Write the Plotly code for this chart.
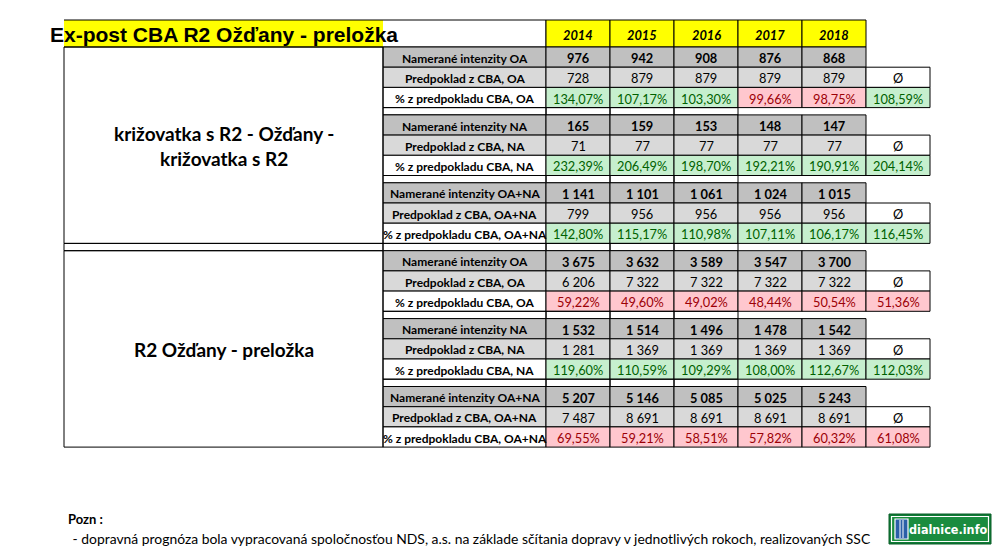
import plotly.graph_objects as go

# ---------------- data ----------------
years = ["2014", "2015", "2016", "2017", "2018"]
groups = ["OA", "NA", "OA+NA"]
title_text = "Ex-post CBA R2 Ožďany - preložka"
section_names = [["križovatka s R2 - Ožďany -", "križovatka s R2"], ["R2 Ožďany - preložka"]]

sec1_measured_OA = [976, 942, 908, 876, 868]
sec1_forecast_OA = [728, 879, 879, 879, 879]
sec1_pct_OA = [134.07, 107.17, 103.30, 99.66, 98.75]
sec1_avg_OA = 108.59

sec1_measured_NA = [165, 159, 153, 148, 147]
sec1_forecast_NA = [71, 77, 77, 77, 77]
sec1_pct_NA = [232.39, 206.49, 198.70, 192.21, 190.91]
sec1_avg_NA = 204.14

sec1_measured_ALL = [1141, 1101, 1061, 1024, 1015]
sec1_forecast_ALL = [799, 956, 956, 956, 956]
sec1_pct_ALL = [142.80, 115.17, 110.98, 107.11, 106.17]
sec1_avg_ALL = 116.45

sec2_measured_OA = [3675, 3632, 3589, 3547, 3700]
sec2_forecast_OA = [6206, 7322, 7322, 7322, 7322]
sec2_pct_OA = [59.22, 49.60, 49.02, 48.44, 50.54]
sec2_avg_OA = 51.36

sec2_measured_NA = [1532, 1514, 1496, 1478, 1542]
sec2_forecast_NA = [1281, 1369, 1369, 1369, 1369]
sec2_pct_NA = [119.60, 110.59, 109.29, 108.00, 112.67]
sec2_avg_NA = 112.03

sec2_measured_ALL = [5207, 5146, 5085, 5025, 5243]
sec2_forecast_ALL = [7487, 8691, 8691, 8691, 8691]
sec2_pct_ALL = [69.55, 59.21, 58.51, 57.82, 60.32]
sec2_avg_ALL = 61.08

note_title = "Pozn :"
note_text = " - dopravná prognóza bola vypracovaná spoločnosťou NDS, a.s. na základe sčítania dopravy v jednotlivých rokoch, realizovaných SSC"
logo_text = "dialnice.info"

sections = [
    [(sec1_measured_OA, sec1_forecast_OA, sec1_pct_OA, sec1_avg_OA),
     (sec1_measured_NA, sec1_forecast_NA, sec1_pct_NA, sec1_avg_NA),
     (sec1_measured_ALL, sec1_forecast_ALL, sec1_pct_ALL, sec1_avg_ALL)],
    [(sec2_measured_OA, sec2_forecast_OA, sec2_pct_OA, sec2_avg_OA),
     (sec2_measured_NA, sec2_forecast_NA, sec2_pct_NA, sec2_avg_NA),
     (sec2_measured_ALL, sec2_forecast_ALL, sec2_pct_ALL, sec2_avg_ALL)],
]

# ---------------- layout / style ----------------
FONT = "Lato"
X_LEFT, X_LABEL, X_VAL0, COLW = 64, 383, 546, 64
Y_HEAD, Y0, ROWH, BLOCK = 20, 47, 20.2, 67.9
YELLOW = "#FFFF00"
GRAY_DARK = "#C0C0C0"
GRAY_LIGHT = "#D9D9D9"
GOOD_FILL, GOOD_TXT = "#C6EFCE", "#006100"
BAD_FILL, BAD_TXT = "#FFC7CE", "#9C0006"
LAB_SIZE = 12
VAL_SIZE = 12.8

shapes = []
ann = []


def rect(x0, x1, y0, y1, fill=None, line=True, lw=1, lc="black"):
    shapes.append(dict(type="rect", xref="x", yref="y", x0=x0, x1=x1, y0=y0, y1=y1,
                       fillcolor=fill if fill else "rgba(0,0,0,0)",
                       line=dict(color=lc, width=lw if line else 0), layer="above"))


def hline(x0, x1, y, lw=1, color="black"):
    shapes.append(dict(type="line", xref="x", yref="y", x0=x0, x1=x1, y0=y, y1=y,
                       line=dict(color=color, width=lw), layer="above"))


def vline(x, y0, y1, lw=1, color="black"):
    shapes.append(dict(type="line", xref="x", yref="y", x0=x, x1=x, y0=y0, y1=y1,
                       line=dict(color=color, width=lw), layer="above"))


def text(x, y, s, size=VAL_SIZE, color="black", xanchor="center", family=FONT):
    ann.append(dict(x=x, y=y, xref="x", yref="y", text=s, showarrow=False,
                    xanchor=xanchor, yanchor="middle",
                    font=dict(family=family, size=size, color=color)))


def fmt_int(v):
    return f"{v:,}".replace(",", " ")


def fmt_pct(v):
    return f"{v:.2f}".replace(".", ",") + "%"


colx = [X_VAL0 + i * COLW for i in range(len(years) + 2)]

# title row
rect(X_LEFT, X_LABEL, Y_HEAD, Y0, fill=YELLOW, line=False)
hline(X_LEFT, X_VAL0, Y_HEAD)
hline(X_LEFT, X_VAL0, Y0)
vline(X_VAL0, Y_HEAD, Y0)
text((X_LEFT + X_LABEL) / 2, (Y_HEAD + Y0) / 2 + 1, "<b>" + title_text + "</b>", size=21,
     family="Liberation Sans, Arial")
for i, yr in enumerate(years):
    rect(colx[i], colx[i + 1], Y_HEAD, Y0, fill=YELLOW)
    text((colx[i] + colx[i + 1]) / 2, (Y_HEAD + Y0) / 2 + 1, "<b><i>" + yr + "</i></b>")

# body
for s, sec in enumerate(sections):
    for g, (meas, fc, pct, avg) in enumerate(sec):
        top = Y0 + (s * 3 + g) * BLOCK
        rows = [top + r * ROWH for r in range(4)]
        lab = groups[g]
        lx = (X_LABEL + X_VAL0) / 2
        rect(X_LABEL, X_VAL0, rows[0], rows[1], fill=GRAY_DARK)
        text(lx, (rows[0] + rows[1]) / 2 + 1, f"<b>Namerané intenzity {lab}</b>", size=LAB_SIZE)
        rect(X_LABEL, X_VAL0, rows[1], rows[2], fill=GRAY_LIGHT)
        text(lx, (rows[1] + rows[2]) / 2 + 1, f"<b>Predpoklad z CBA, {lab}</b>", size=LAB_SIZE)
        rect(X_LABEL, X_VAL0, rows[2], rows[3], fill="white")
        text(lx, (rows[2] + rows[3]) / 2 + 1, f"<b>% z predpokladu CBA, {lab}</b>", size=LAB_SIZE)
        for i in range(len(years)):
            cx = (colx[i] + colx[i + 1]) / 2
            rect(colx[i], colx[i + 1], rows[0], rows[1], fill=GRAY_DARK)
            text(cx, (rows[0] + rows[1]) / 2 + 1, "<b>" + fmt_int(meas[i]) + "</b>")
            rect(colx[i], colx[i + 1], rows[1], rows[2], fill=GRAY_LIGHT)
            text(cx, (rows[1] + rows[2]) / 2 + 1, fmt_int(fc[i]))
            good = pct[i] >= 100
            rect(colx[i], colx[i + 1], rows[2], rows[3], fill=GOOD_FILL if good else BAD_FILL)
            text(cx, (rows[2] + rows[3]) / 2 + 1, fmt_pct(pct[i]), color=GOOD_TXT if good else BAD_TXT)
        ax0, ax1 = colx[len(years)], colx[len(years) + 1]
        rect(ax0, ax1, rows[1], rows[2], fill="white")
        text((ax0 + ax1) / 2, (rows[1] + rows[2]) / 2 + 1, "Ø")
        good = avg >= 100
        rect(ax0, ax1, rows[2], rows[3], fill=GOOD_FILL if good else BAD_FILL)
        text((ax0 + ax1) / 2, (rows[2] + rows[3]) / 2 + 1, fmt_pct(avg), color=GOOD_TXT if good else BAD_TXT)
        if not (s == len(sections) - 1 and g == len(sec) - 1):
            sp_bottom = top + BLOCK
            rect(X_LABEL, X_VAL0, rows[3], sp_bottom)
            for i in range(3):
                rect(colx[i], colx[i + 1], rows[3], sp_bottom)
            if g == len(sec) - 1:
                rect(X_LEFT, X_LABEL, rows[3], sp_bottom)
    s_top = Y0 + s * 3 * BLOCK
    s_bot = Y0 + (s * 3 + 2) * BLOCK + 3 * ROWH
    rect(X_LEFT, X_LABEL, s_top, s_bot)
    names = section_names[s]
    mid = (s_top + s_bot) / 2
    n = len(names)
    for k, nm in enumerate(names):
        text((X_LEFT + X_LABEL) / 2, mid + (k - (n - 1) / 2) * 25 + 1, "<b>" + nm + "</b>", size=19)

# notes
text(66, 519, "<b>" + note_title + "</b>", size=13, xanchor="left")
text(67, 538, note_text, size=13.9, xanchor="left")

# logo
rect(889, 991, 514, 544, fill="#0E7A35", lc="#0B5E28", lw=1)
rect(891.5, 988.5, 516.5, 541.5, fill="#1A8C3F", lc="white", lw=1.2)
rect(895, 908, 519, 539, fill="#2B5FA8", lc="white", lw=1.2)
vline(900, 520, 538, color="white")
vline(903, 520, 538, color="white")
text(948.5, 529, "<b>" + logo_text + "</b>", size=12.5, color="white",
     family="DejaVu Sans Condensed, DejaVu Sans")

fig = go.Figure()
fig.add_trace(go.Scatter(x=[0], y=[0], mode="markers", marker=dict(opacity=0),
                         hoverinfo="skip", showlegend=False))
fig.update_layout(
    width=996, height=548, margin=dict(l=0, r=0, t=0, b=0),
    paper_bgcolor="white", plot_bgcolor="white",
    xaxis=dict(range=[0, 996], visible=False, fixedrange=True),
    yaxis=dict(range=[548, 0], visible=False, fixedrange=True),
    shapes=shapes, annotations=ann, showlegend=False,
)
fig.write_html("out.html", config={"displayModeBar": False},
               post_script="document.body.style.margin='0';document.body.style.overflow='hidden';")
